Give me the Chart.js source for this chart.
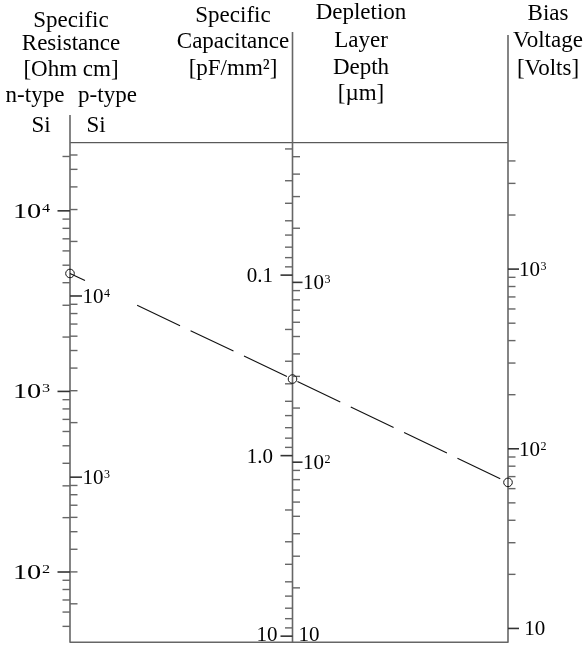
<!DOCTYPE html>
<html>
<head>
<meta charset="utf-8">
<script src="https://cdn.jsdelivr.net/npm/chart.js@4.4.0/dist/chart.umd.min.js"></script>
<style>
html,body{margin:0;padding:0;background:#fff;}
#wrap{width:588px;height:648px;position:relative;}
</style>
</head>
<body>
<div id="wrap"><canvas id="c"></canvas></div>
<script>
// ---------------- data ----------------
const resistivityNTicks = [50,60,70,80,90,100,200,300,400,500,600,700,800,900,1000,2000,3000,4000,5000,6000,7000,8000,9000,10000,20000];
const resistivityNLabels = [100,1000,10000];
const resistivityPTicks = [200,300,400,500,600,700,800,900,1000,2000,3000,4000,5000,6000,7000,8000,9000,10000,20000,30000,40000,50000,60000];
const resistivityPLabels = [1000,10000];
const capacitanceTicks = [0.02,0.03,0.04,0.05,0.06,0.07,0.08,0.09,0.1,0.2,0.3,0.4,0.5,0.6,0.7,0.8,0.9,1,2,3,4,5,6,7,8,9,10];
const capacitanceLabels = [0.1,1,10];
const capacitanceLabelText = ['0.1','1.0','10'];
const depthTicks = [20,30,40,50,60,70,80,90,100,200,300,400,500,600,700,800,900,1000,2000,3000,4000,5000];
const depthLabels = [10,100,1000];
const biasTicks = [10,20,30,40,50,60,70,80,90,100,200,300,400,500,600,700,800,900,1000,2000,3000,4000];
const biasLabels = [10,100,1000];
const exampleScales = ['yN','yD','yV'];
const exampleValues = [4500,290,65];

const headerResistance = ['Specific','Resistance','[Ohm cm]'];
const headerTypes = ['n-type','p-type'];
const headerMaterial = ['Si','Si'];
const headerCapacitance = ['Specific','Capacitance','[pF/mm\u00B2]'];
const headerDepth = ['Depletion','Layer','Depth','[\u00B5m]'];
const headerBias = ['Bias','Voltage','[Volts]'];

// ---------------- layout / style ----------------
const FONT = '"Liberation Serif", "Times New Roman", serif';
const axisPos = {yN:0, yP:0, yC:0.508, yD:0.508, yV:1};

function drawPow(ctx, exp, x, y, align, stretch){
  ctx.font = '21px ' + FONT;
  const wb = ctx.measureText('10').width;
  ctx.font = '12px ' + FONT;
  const we = ctx.measureText(exp).width;
  const total = (wb + we + 0.5) * stretch;
  const left = align === 'right' ? x - total : x;
  ctx.save();
  ctx.translate(left, y);
  ctx.scale(stretch, 1);
  ctx.textAlign = 'left';
  ctx.textBaseline = 'alphabetic';
  ctx.font = '21px ' + FONT;
  ctx.fillText('10', 0, 7);
  ctx.font = '12px ' + FONT;
  ctx.fillText(exp, wb + 0.5, 1);
  ctx.restore();
}
function drawPlain(ctx, text, x, y, align){
  ctx.font = '21px ' + FONT;
  ctx.textAlign = align;
  ctx.textBaseline = 'alphabetic';
  ctx.fillText(text, x, y + 7);
}
function expOf(v){ return String(Math.round(Math.log10(v))); }

const axesDef = [
  {id:'yN', ticks:resistivityNTicks, majors:resistivityNLabels, side:-1, minorLen:7.5, majorLen:12.5,
   label:(ctx,v,ax,y)=>drawPow(ctx, expOf(v), ax-20, y, 'right', 1.35)},
  {id:'yP', ticks:resistivityPTicks, majors:resistivityPLabels, side:1, minorLen:7.5, majorLen:12,
   label:(ctx,v,ax,y)=>drawPow(ctx, expOf(v), ax+12.5, y, 'left', 1)},
  {id:'yC', ticks:capacitanceTicks, majors:capacitanceLabels, side:-1, minorLen:7.5, majorLen:12,
   label:(ctx,v,ax,y,i)=>drawPlain(ctx, capacitanceLabelText[i], v===10 ? ax-15 : ax-19.5, y, 'right')},
  {id:'yD', ticks:depthTicks, majors:depthLabels, side:1, minorLen:7.5, majorLen:10,
   label:(ctx,v,ax,y)=> v===10 ? drawPlain(ctx,'10',ax+6,y,'left') : drawPow(ctx, expOf(v), ax+10.5, y, 'left', 1)},
  {id:'yV', ticks:biasTicks, majors:biasLabels, side:1, minorLen:7.5, majorLen:11,
   label:(ctx,v,ax,y)=> v===10 ? drawPlain(ctx,' 10',ax+11,y,'left') : drawPow(ctx, expOf(v), ax+11, y, 'left', 1)}
];
const axisTops = {0:115, 0.508:32, 1:35};

const nomoPlugin = {
  id:'nomo',
  beforeDatasetsDraw(chart){
    const ctx = chart.ctx;
    const area = chart.chartArea;
    const xs = chart.scales.x;
    ctx.save();
    // frame lines
    ctx.strokeStyle = '#333';
    ctx.lineWidth = 1;
    ctx.beginPath();
    ctx.moveTo(xs.getPixelForValue(0), area.top);
    ctx.lineTo(xs.getPixelForValue(1), area.top);
    ctx.stroke();
    ctx.strokeStyle = '#666';
    ctx.lineWidth = 1.6;
    ctx.beginPath();
    ctx.moveTo(xs.getPixelForValue(0), area.bottom - 0.5);
    ctx.lineTo(xs.getPixelForValue(1), area.bottom - 0.5);
    ctx.stroke();
    // vertical axis lines
    [0, 0.508, 1].forEach(p=>{
      const x = xs.getPixelForValue(p);
      ctx.beginPath();
      ctx.moveTo(x, axisTops[p]);
      ctx.lineTo(x, area.bottom);
      ctx.stroke();
    });
    // ticks and labels
    axesDef.forEach(a=>{
      const sc = chart.scales[a.id];
      const ax = xs.getPixelForValue(axisPos[a.id]);
      a.ticks.forEach(v=>{
        const y = sc.getPixelForValue(v);
        if (y < area.top + 1 || y > area.bottom - 2) return;
        const major = a.majors.includes(v);
        const len = major ? a.majorLen : a.minorLen;
        ctx.strokeStyle = major ? '#333' : '#666';
        ctx.lineWidth = major ? 1.6 : 1.4;
        ctx.beginPath();
        ctx.moveTo(ax, y);
        ctx.lineTo(ax + a.side*len, y);
        ctx.stroke();
      });
      ctx.fillStyle = '#000';
      a.majors.forEach((v,i)=>{
        let y = sc.getPixelForValue(v);
        y = Math.min(y, area.bottom - 9);
        a.label(ctx, v, ax, y, i);
      });
    });
    // headers
    ctx.fillStyle = '#000';
    ctx.textAlign = 'center';
    ctx.textBaseline = 'alphabetic';
    ctx.font = '23px ' + FONT;
    const hl = (lines, cx, bases)=>lines.forEach((t,i)=>ctx.fillText(t, cx, bases[i]));
    hl(headerResistance, 71, [27,50,76]);
    ctx.fillText(headerTypes[0], 35, 102);
    ctx.fillText(headerTypes[1], 107.5, 102);
    ctx.fillText(headerMaterial[0], 41, 132);
    ctx.fillText(headerMaterial[1], 96, 132);
    hl(headerCapacitance, 233, [22,48,75]);
    hl(headerDepth, 361, [19,47,74,100]);
    hl(headerBias, 548, [20,47,75]);
    // dashed reading line through the example points
    const pts = exampleScales.map((_,i)=>chart.getDatasetMeta(i).data[0]);
    const dash = [16.6, 57.7];
    for (let k=0;k<8;k++){ dash.push(47.5, 11.65); }
    ctx.setLineDash(dash);
    ctx.strokeStyle = '#111';
    ctx.lineWidth = 1.1;
    ctx.beginPath();
    ctx.moveTo(pts[0].x, pts[0].y);
    ctx.lineTo(pts[1].x, pts[1].y);
    ctx.lineTo(pts[2].x, pts[2].y);
    ctx.stroke();
    ctx.restore();
  }
};

const datasets = exampleScales.map((sid,i)=>({
  type:'scatter',
  data:[{x:axisPos[sid], y:exampleValues[i]}],
  xAxisID:'x',
  yAxisID:sid,
  pointRadius:4.3,
  pointHoverRadius:4.3,
  pointStyle:'circle',
  borderColor:'#111',
  borderWidth:1,
  backgroundColor:'rgba(0,0,0,0)',
  clip:false
}));

new Chart(document.getElementById('c'), {
  type:'scatter',
  data:{datasets},
  options:{
    responsive:true,
    maintainAspectRatio:false,
    animation:false,
    events:[],
    layout:{padding:{left:70, right:80, top:142.7, bottom:2}},
    plugins:{legend:{display:false}, tooltip:{enabled:false}},
    scales:{
      x:{type:'linear', min:0, max:1, display:false},
      yN:{type:'logarithmic', min:40.6, max:23840, display:false},
      yP:{type:'logarithmic', min:122, max:70150, display:false},
      yC:{type:'logarithmic', min:0.01847, max:10.87, reverse:true, display:false},
      yD:{type:'logarithmic', min:9.91, max:5981, display:false},
      yV:{type:'logarithmic', min:8.33, max:5053, display:false}
    }
  },
  plugins:[nomoPlugin]
});
</script>
</body>
</html>
